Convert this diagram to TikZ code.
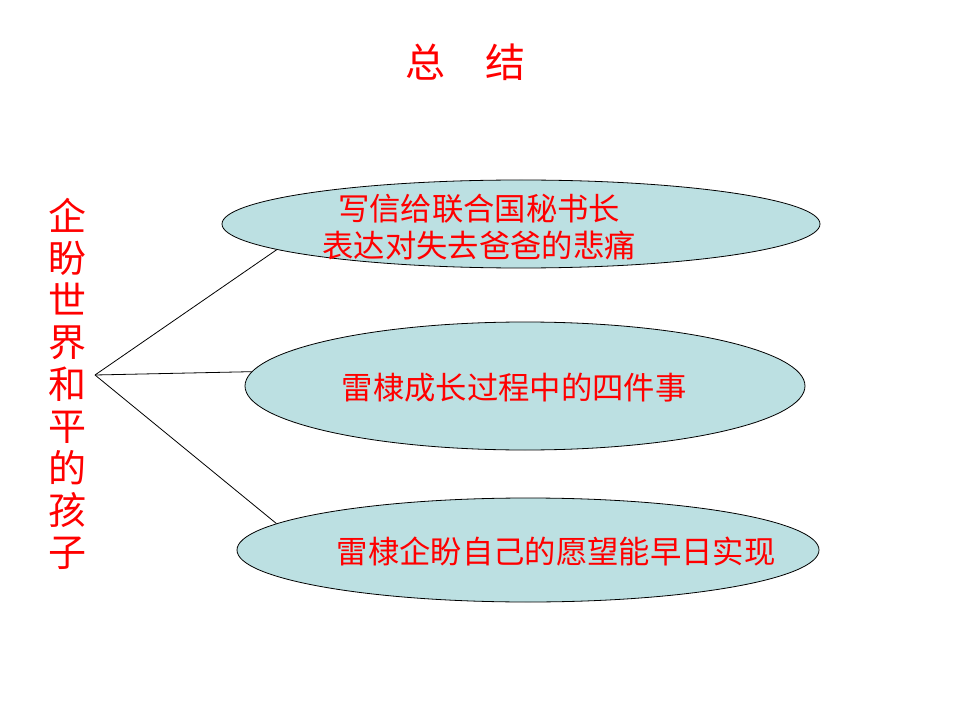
\documentclass[tikz,border=0pt]{standalone}
\usepackage{fontspec}
\setmainfont{Noto Sans CJK SC}
\usetikzlibrary{shapes.geometric}
\definecolor{bubble}{RGB}{188,224,226}
\tikzset{
  oval/.style={ellipse,draw,fill=bubble,line width=.6pt,inner sep=0pt},
  redtext/.style={text=red,font=\fontsize{23.5}{27.5}\selectfont,align=center,inner sep=0pt},
  wire/.style={line width=.6pt}
}
\begin{document}
\begin{tikzpicture}[x=.75pt,y=-.75pt]
\useasboundingbox (0,0) rectangle (960,720);
\node[text=red,font=\fontsize{30}{34}\selectfont,inner sep=0pt] (title) at (465,62) {总\hspace{1em}结};
\node[text=red,font=\fontsize{28.5}{31.5}\selectfont,align=center,inner sep=0pt] (child) at (67,384) {企\\盼\\世\\界\\和\\平\\的\\孩\\子};
\node[oval,minimum width=448.5pt,minimum height=66pt] (e1) at (521,224) {};
\node[oval,minimum width=420pt,minimum height=96pt] (e2) at (525,386) {};
\node[oval,minimum width=436.5pt,minimum height=78pt] (e3) at (528,550) {};
\node[redtext] (t1) at (479,227) {写信给联合国秘书长\\表达对失去爸爸的悲痛};
\node[redtext] (t2) at (514,388) {雷棣成长过程中的四件事};
\node[redtext] (t3) at (556,552) {雷棣企盼自己的愿望能早日实现};
\coordinate (apex) at (95,375);
\draw[wire] (apex) -- (e1.186.4);
\draw[wire] (apex) -- (e2.177.7);
\draw[wire] (apex) -- (e3.174.4);
\end{tikzpicture}
\end{document}
